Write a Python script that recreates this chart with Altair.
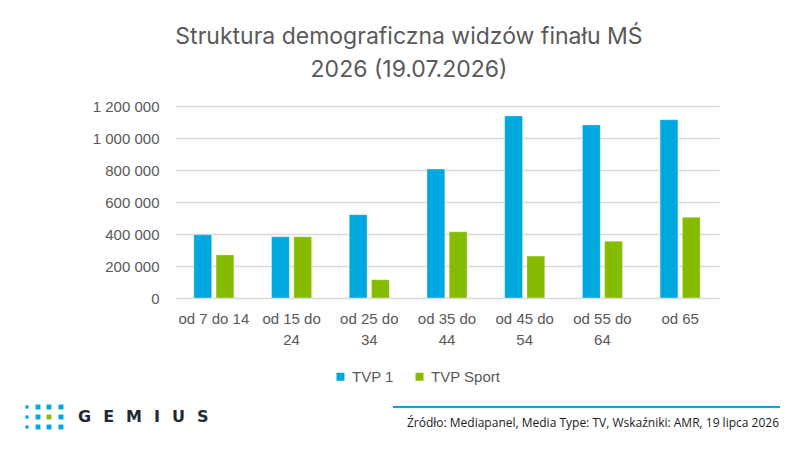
import altair as alt
import pandas as pd

categories = ["od 7 do 14", "od 15 do 24", "od 25 do 34", "od 35 do 44",
              "od 45 do 54", "od 55 do 64", "od 65"]
tvp1 = [395000, 383000, 521000, 806000, 1138000, 1081000, 1114000]
tvp_sport = [269000, 383000, 114000, 414000, 262000, 354000, 504000]
series = ["TVP 1", "TVP Sport"]
colors = ["#00A8E0", "#86BC00"]
y_ticks = [0, 200000, 400000, 600000, 800000, 1000000, 1200000]

title_lines = ["Struktura demograficzna widzów finału MŚ", "2026 (19.07.2026)"]
source_text = "Źródło: Mediapanel, Media Type: TV, Wskaźniki: AMR, 19 lipca 2026"
logo_text = "G\u2002\u2005E\u2002\u2005M\u2002\u2005I\u2002\u2005U\u2002\u2005S"

rows = []
for c, a, b in zip(categories, tvp1, tvp_sport):
    rows.append({"kat": c, "seria": series[0], "widzowie": a})
    rows.append({"kat": c, "seria": series[1], "widzowie": b})
df = pd.DataFrame(rows)

GREY = "#595959"
FONT = "Liberation Sans"

bars = alt.Chart(df).mark_bar(stroke="white", strokeOpacity=0.5, strokeWidth=0.6).encode(
    x=alt.X("kat:N", sort=categories, title=None,
            scale=alt.Scale(paddingInner=0.485, paddingOuter=0.2425),
            axis=alt.Axis(labelAngle=0, labelFont=FONT, labelFontSize=15,
                          labelColor=GREY, ticks=False, tickSize=0, domain=False,
                          labelPadding=13, labelLineHeight=21,
                          labelExpr="length(datum.label) > 10 ? [substring(datum.label, 0, 8), substring(datum.label, 9)] : datum.label")),
    xOffset=alt.XOffset("seria:N", sort=series,
                        scale=alt.Scale(paddingInner=0.2, paddingOuter=0)),
    y=alt.Y("widzowie:Q", title=None,
            scale=alt.Scale(domain=[0, 1200000], nice=False),
            axis=alt.Axis(values=y_ticks, labelFont=FONT, labelFontSize=15,
                          labelColor=GREY, ticks=False, tickSize=0, domain=False,
                          labelPadding=16, gridColor="#D9D9D9", gridWidth=1.3,
                          labelExpr="replace(format(datum.value, ',d'), /,/g, ' ')")),
    color=alt.Color("seria:N", sort=series,
                    scale=alt.Scale(domain=series, range=colors),
                    legend=alt.Legend(title=None, orient="none", direction="horizontal",
                                      legendX=158, legendY=263, symbolType="square",
                                      symbolSize=64, symbolStrokeWidth=0,
                                      labelFont=FONT, labelFontSize=15,
                                      labelColor=GREY, columnPadding=18,
                                      labelOffset=4)),
)

dummy = pd.DataFrame({"d": [0]})

rule = alt.Chart(dummy).mark_rule(color="#00A8E0", strokeWidth=2).encode(
    x=alt.value(218), x2=alt.value(605), y=alt.value(301))

source = alt.Chart(dummy).mark_text(font="Open Sans", fontSize=12, color="#1a1a1a",
                                    align="right", baseline="middle").encode(
    x=alt.value(604), y=alt.value(317), text=alt.value(source_text))

logo = alt.Chart(dummy).mark_text(font="DejaVu Sans", fontSize=16, fontWeight="bold",
                                  color="#1d2a33", align="left", baseline="middle").encode(
    x=alt.value(-97), y=alt.value(311), text=alt.value(logo_text))

dot_layers = []
col_x = [-148, -137, -126, -114]
row_y = [301, 311, 321]
for ri, yy in enumerate(row_y):
    for ci, xx in enumerate(col_x):
        col = "#86BC00" if (ri == 1 and ci == 2) else "#00A8E0"
        size = 10 if ci == 0 else 24
        dot_layers.append(
            alt.Chart(dummy).mark_point(shape="square", filled=True, color=col,
                                        opacity=1, size=size).encode(
                x=alt.value(xx), y=alt.value(yy)))

chart = alt.layer(bars, rule, source, logo, *dot_layers).properties(
    width=544, height=192,
    autosize=alt.AutoSizeParams(type="none"),
    padding={"left": 167, "top": 98, "right": 70, "bottom": 140},
    title=alt.TitleParams(text=title_lines, font="Inter", fontSize=23,
                          fontWeight="normal", color=GREY, anchor="middle",
                          dx=-38, offset=17, lineHeight=33),
).configure_view(stroke=None)

chart.save("out.html", embed_options={"renderer": "svg", "actions": False})
